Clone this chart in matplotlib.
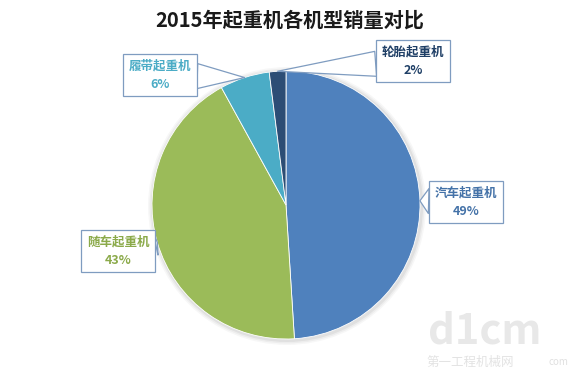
import numpy as np
import matplotlib
matplotlib.use("Agg")
import matplotlib.pyplot as plt
from matplotlib.patches import Circle

plt.rcParams['font.family'] = ['Noto Sans CJK SC', 'DejaVu Sans']

title = "2015年起重机各机型销量对比"
categories = ["汽车起重机", "随车起重机", "履带起重机", "轮胎起重机"]
values = [49, 43, 6, 2]
pct_labels = ["49%", "43%", "6%", "2%"]
colors = ["#4F81BD", "#9BBB59", "#4BACC6", "#2C4D75"]
text_colors = ["#4472A8", "#8BAA4A", "#4BACC6", "#1F3F66"]
# label box centres (pixel coords, y up)
label_pos = [(466, 172), (118, 123), (160, 299), (413, 313)]

W, H = 580, 374
fig = plt.figure(figsize=(W / 100, H / 100), dpi=100)
ax = fig.add_axes([0, 0, 1, 1])

cx, cy, R = 286, 169, 134

# soft shadow
for i, a in enumerate([0.05, 0.04, 0.03]):
    ax.add_patch(Circle((cx + 1, cy - 1), R + 2 + i * 1.5, color='#000000', alpha=a, lw=0, zorder=0))

wedges, _ = ax.pie(values, colors=colors, startangle=90, counterclock=False,
                   center=(cx, cy), radius=R, frame=True,
                   wedgeprops=dict(linewidth=0.6, edgecolor='#ffffff'))
ax.set_xlim(0, W)
ax.set_ylim(0, H)
ax.axis('off')

for w, cat, pct, tc, (lx, ly) in zip(wedges, categories, pct_labels, text_colors, label_pos):
    mid = np.deg2rad((w.theta1 + w.theta2) / 2)
    px = cx + R * np.cos(mid)
    py = cy + R * np.sin(mid)
    ax.annotate(cat + "\n" + pct, xy=(px, py), xytext=(lx, ly),
                ha='center', va='center', fontsize=9, fontweight='bold', color=tc,
                linespacing=1.5,
                bbox=dict(boxstyle='square,pad=0.45', fc='white', ec='#7F9CC0', lw=0.9),
                arrowprops=dict(arrowstyle='wedge,tail_width=2.0,shrink_factor=0.5',
                                fc='white', ec='#7F9CC0', lw=0.9, shrinkA=0, shrinkB=0),
                zorder=5)

ax.text(290, 354, title, ha='center', va='center', fontsize=14.5, fontweight='bold', color='#1a1a1a')

# faint watermark
ax.text(485, 42, "d1cm", ha='center', va='center', fontsize=30, fontweight='bold',
        color='#e8e8e8', zorder=1)
ax.text(470, 12, "第一工程机械网", ha='center', va='center', fontsize=9, color='#e3e3e3', zorder=1)
ax.text(558, 12, "com", ha='center', va='center', fontsize=7, color='#e0e0e0', zorder=1)

fig.savefig("out.png", dpi=100)
